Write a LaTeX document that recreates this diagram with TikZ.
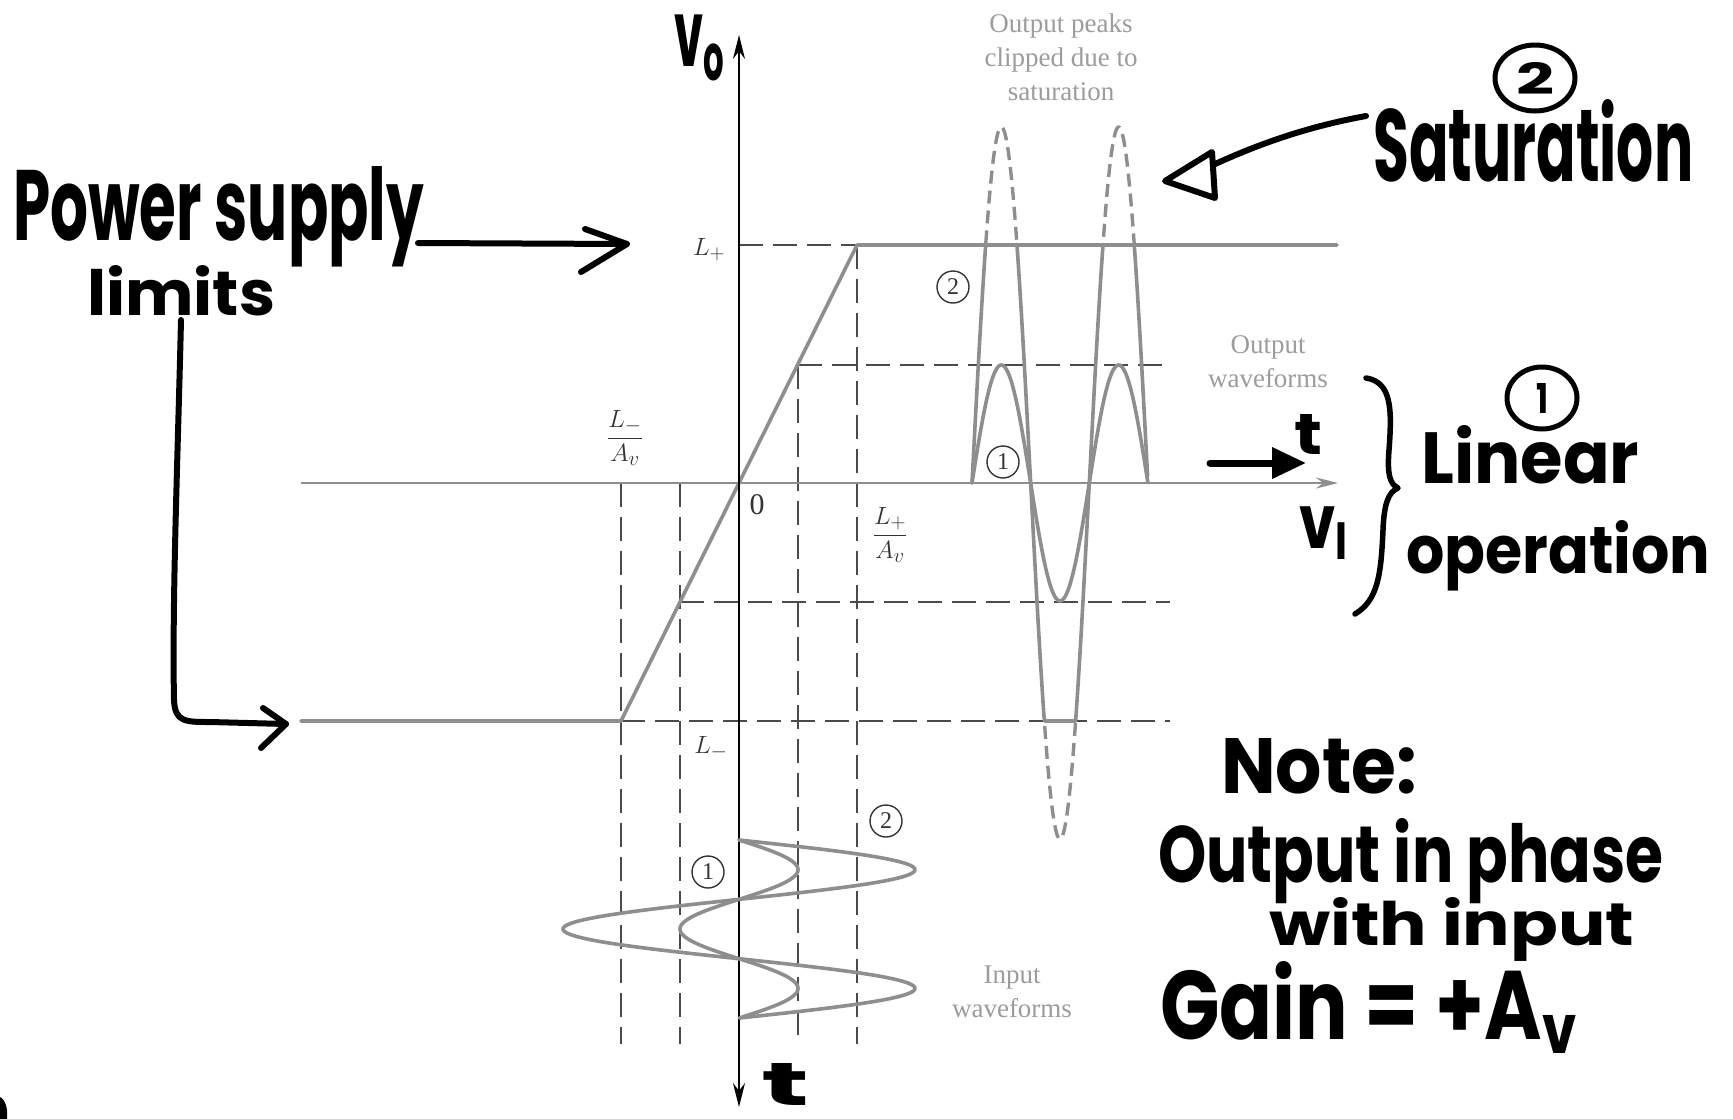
\documentclass[tikz,border=0pt]{standalone}
\usepackage{fontspec}
\usepackage{graphicx}
\setmainfont{Liberation Serif}
\newfontfamily\handfont{Poppins}
\usetikzlibrary{arrows.meta,calc}
\definecolor{wavegray}{HTML}{8E8E8E}
\definecolor{dashgray}{HTML}{4A4A4A}
\definecolor{txtgray}{HTML}{9C9C9C}
\definecolor{lblgray}{HTML}{333333}
\newcommand{\hwb}[3]{\resizebox{#1pt}{#2pt}{\handfont\bfseries #3}}
\newcommand{\hws}[3]{\resizebox*{#1pt}{#2pt}{\handfont\bfseries #3}}
\begin{document}
\begin{tikzpicture}[x=1pt,y=-1pt,
  wave/.style={draw=wavegray,line width=3.6pt,line cap=round,line join=round},
  guide/.style={draw=dashgray,line width=2pt,dash pattern=on 24pt off 10pt},
  ovr/.style={draw=wavegray,line width=3.4pt,dash pattern=on 13pt off 7pt},
  axisline/.style={draw=black,line width=1.8pt},
  hand/.style={draw=black,line width=6pt,line cap=round,line join=round},
  printed/.style={text=txtgray,font=\fontsize{27}{34}\selectfont,align=center,inner sep=0pt},
  lbl/.style={text=lblgray,font=\fontsize{30}{34}\selectfont,inner sep=0pt},
  circnum/.style={circle,draw=lblgray,line width=1.4pt,inner sep=0pt,minimum size=32pt,text=lblgray,font=\fontsize{24}{24}\selectfont},
  htext/.style={inner sep=0pt,text=black}
]
\useasboundingbox[fill=white] (0,0) rectangle (1733,1119);

% key points
\coordinate (O) at (739,483);
\coordinate (xstart) at (301,483);
\coordinate (xend) at (1338,483);
\coordinate (ytop) at (739,35);
\coordinate (ybot) at (739,1107);
\coordinate (Pm) at (621,721);
\coordinate (Pp) at (857,245);

% dashed guides
\draw[guide] (739,245) -- (Pp);
\draw[guide] (Pm) -- (1170,721);
\draw[guide] (798,365) -- (1170,365);
\draw[guide] (680,602) -- (1170,602);
\draw[guide] (621,483) -- (621,1044);
\draw[guide] (680,483) -- (680,1044);
\draw[guide] (798,365) -- (798,1044);
\draw[guide] (857,245) -- (857,1044);

% transfer characteristic
\draw[wave] (301,721) -- (Pm) -- (Pp) -- (1337,245);

% axes
\draw[draw=wavegray,line width=2.6pt,-{Stealth[length=22pt,width=11pt]}] (xstart) -- (xend);
\draw[axisline,{Stealth[length=24pt,width=12pt]}-{Stealth[length=24pt,width=12pt]}] (ybot) -- (ytop);

% output waveforms
\draw[wave] plot[domain=0:1.5,samples=151] ({972+117.3*\x},{483-118*sin(360*\x)});
\draw[wave] plot[domain=0:1.5,samples=301] ({972+117.3*\x},{483-max(-238,min(238,356*sin(360*\x)))});
\begin{scope}
  \clip (950,0) rectangle (1200,245) (950,721) rectangle (1200,1119);
  \draw[ovr] plot[domain=0:1.5,samples=301] ({972+117.3*\x},{483-356*sin(360*\x)});
\end{scope}

% input waveforms
\draw[wave] plot[domain=0:1.5,samples=151] ({739+59*sin(360*\x)},{840+118.7*\x});
\draw[wave] plot[domain=0:1.5,samples=151] ({739+176*sin(360*\x)},{840+118.7*\x});

% printed labels
\node[lbl] (Lp) at (709,250) {$L_+$};
\node[lbl] (Lm) at (711,748) {$L_-$};
\node[lbl] (LmAv) at (625,438) {$\displaystyle\frac{L_-}{A_v}$};
\node[lbl] (zero) at (757,505) {0};
\node[lbl] (LpAv) at (890,535) {$\displaystyle\frac{L_+}{A_v}$};

\node[circnum] (c2a) at (953,287) {2};
\node[circnum] (c1a) at (1003,462) {1};
\node[circnum] (c1b) at (708,872) {1};
\node[circnum] (c2b) at (886,821) {2};

\node[printed] (peaks) at (1061,57) {Output peaks\\clipped due to\\saturation};
\node[printed] (outw) at (1268,362) {Output\\waveforms};
\node[printed] (inw) at (1012,992) {Input\\waveforms};

% handwritten notes
\node[htext,anchor=base west] (ps) at (13,240) {\hwb{411}{74}{Power supply}};
\node[htext,anchor=base west] (lim) at (87,315) {\hwb{188}{50}{limits}};
\node[htext,anchor=base west] (sat) at (1373,181) {\hwb{320}{82}{Saturation}};
\node[htext,anchor=base west] (lin) at (1421,483) {\hwb{218}{58}{Linear}};
\node[htext,anchor=base west] (oper) at (1406,573) {\hwb{304}{53}{operation}};
\node[htext,anchor=base west] (note) at (1221,793) {\hwb{196}{55}{Note:}};
\node[htext,anchor=base west] (phase) at (1158,882) {\hwb{505}{64}{Output in phase}};
\node[htext,anchor=base west] (winp) at (1269,945) {\hwb{365}{48}{with input}};
\node[htext,anchor=base west] (gain) at (1160,1039) {\hwb{420}{78}{Gain = +A\textsubscript{v}}};

\node[htext] (vo) at (700,48) {\hws{52}{66}{v\textsubscript{o}}};
\node[htext] (tb) at (786,1084) {\hws{48}{42}{t}};
\node[htext] (tr) at (1308,434) {\hws{28}{40}{t}};
\node[htext] (vI) at (1325,533) {\hws{51}{53}{v\textsubscript{I}}};

\node[htext] (h2) at (1535,78) {\hws{38}{32}{2}};
\draw[hand,line width=5pt] (h2.center) ellipse [x radius=40,y radius=33];
\node[htext] (h1) at (1542,398) {\hws{12}{30}{1}};
\draw[hand,line width=5pt] (h1.center) ellipse [x radius=35,y radius=31];

% brace
\draw[hand,line width=5.5pt] (1366,378) .. controls (1392,382) and (1392,410) .. (1389,450)
  .. controls (1387,475) and (1390,484) .. (1398,488)
  .. controls (1388,492) and (1384,505) .. (1383,530)
  .. controls (1381,575) and (1378,600) .. (1355,614);

% arrows
\coordinate (psStart) at (418,243);
\coordinate (psEnd) at (627,244);
\draw[hand] (psStart) -- (psEnd);
\draw[hand] (585,229) -- (psEnd) -- (581,272);

\coordinate (limStart) at (181,320);
\coordinate (limEnd) at (286,724);
\draw[hand] (limStart) .. controls (178,450) and (172,600) .. (174,700)
  .. controls (175,722) and (185,722) .. (210,722) -- (limEnd);
\draw[hand] (263,708) -- (limEnd) -- (261,748);

\coordinate (satStart) at (1366,116);
\coordinate (satTip) at (1165,181);
\draw[hand] (satStart) .. controls (1300,128) and (1250,148) .. (1213,165);
\draw[hand] (satTip) -- (1212,152) -- (1215,198) -- cycle;

\coordinate (tStart) at (1210,463);
\coordinate (tEnd) at (1306,463);
\draw[hand,line width=7pt,-{Triangle[length=34pt,width=30pt]}] (tStart) -- (tEnd);

% cut-off mark at bottom edge
\fill[black] (0,1097) .. controls (6,1100) and (8,1110) .. (7,1119) -- (0,1119) -- cycle;
\end{tikzpicture}
\end{document}
